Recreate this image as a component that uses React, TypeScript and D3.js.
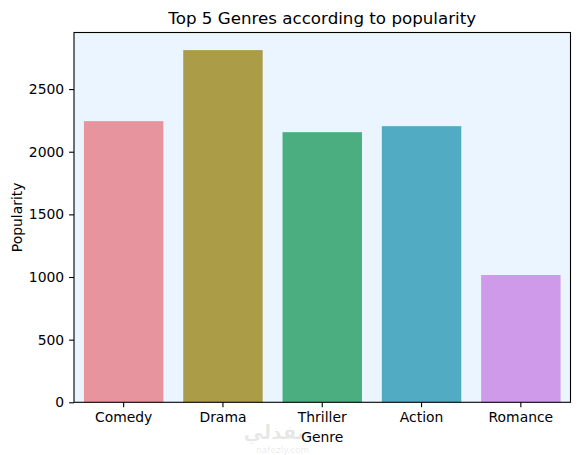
import * as d3 from 'd3'
import React from 'react'

const genres = ['Comedy', 'Drama', 'Thriller', 'Action', 'Romance']
const popularity = [2244, 2811, 2156, 2204, 1016]
const barColors = ['#e8949f', '#ab9c47', '#4aae81', '#50abc3', '#cf9ae9']
const yTicks = [0, 500, 1000, 1500, 2000, 2500]

const width = 580
const height = 455
const margin = { top: 32.5, right: 9.5, bottom: 52.7, left: 74 }
const font = 'DejaVu Sans, sans-serif'

export default function App() {
    const svgRef = React.useRef<SVGSVGElement | null>(null)

    React.useEffect(() => {
        const svg = d3.select(svgRef.current)
        svg.selectAll('*').remove()

        const innerW = width - margin.left - margin.right
        const innerH = height - margin.top - margin.bottom

        const x = d3.scaleBand().domain(genres).range([0, innerW]).paddingInner(0.2).paddingOuter(0.1)
        const yMax = (d3.max(popularity) || 0) * 1.05
        const y = d3.scaleLinear().domain([0, yMax]).range([innerH, 0])

        const g = svg.append('g').attr('transform', `translate(${margin.left},${margin.top})`)

        // axes background
        g.append('rect').attr('width', innerW).attr('height', innerH).attr('fill', '#ebf5ff')

        // bars
        g.selectAll('rect.bar')
            .data(genres)
            .join('rect')
            .attr('class', 'bar')
            .attr('x', (d) => x(d) || 0)
            .attr('y', (d, i) => y(popularity[i]))
            .attr('width', x.bandwidth())
            .attr('height', (d, i) => innerH - y(popularity[i]))
            .attr('fill', (d, i) => barColors[i])

        // frame
        g.append('rect')
            .attr('width', innerW)
            .attr('height', innerH)
            .attr('fill', 'none')
            .attr('stroke', '#000')
            .attr('stroke-width', 1.1)

        // y axis
        const yAxis = g
            .append('g')
            .call(
                d3
                    .axisLeft(y)
                    .tickValues(yTicks)
                    .tickFormat(d3.format('d'))
                    .tickSize(4.9)
                    .tickPadding(4.9)
                    .tickSizeOuter(0)
            )
        yAxis.select('.domain').remove()
        yAxis.selectAll('line').attr('stroke', '#000').attr('stroke-width', 1.1)
        yAxis.selectAll('text').attr('font-family', font).attr('font-size', 13.9).attr('fill', '#000')

        // x axis
        const xAxis = g
            .append('g')
            .attr('transform', `translate(0,${innerH})`)
            .call(d3.axisBottom(x).tickSize(4.9).tickPadding(4.9).tickSizeOuter(0))
        xAxis.select('.domain').remove()
        xAxis.selectAll('line').attr('stroke', '#000').attr('stroke-width', 1.1)
        xAxis.selectAll('text').attr('font-family', font).attr('font-size', 13.9).attr('fill', '#000')

        // labels
        svg.append('text')
            .attr('x', margin.left + innerW / 2)
            .attr('y', margin.top - 9)
            .attr('text-anchor', 'middle')
            .attr('font-family', font)
            .attr('font-size', 16.7)
            .text('Top 5 Genres according to popularity')

        svg.append('text')
            .attr('x', margin.left + innerW / 2)
            .attr('y', 442)
            .attr('text-anchor', 'middle')
            .attr('font-family', font)
            .attr('font-size', 13.9)
            .text('Genre')

        svg.append('text')
            .attr('transform', `translate(22,${margin.top + innerH / 2}) rotate(-90)`)
            .attr('text-anchor', 'middle')
            .attr('font-family', font)
            .attr('font-size', 13.9)
            .text('Popularity')

        // watermark
        svg.append('text')
            .attr('x', 274)
            .attr('y', 439)
            .attr('text-anchor', 'middle')
            .attr('font-family', font)
            .attr('font-weight', 'bold')
            .attr('font-size', 20)
            .attr('fill', '#000')
            .attr('fill-opacity', 0.1)
            .text('نفذلي')
        svg.append('text')
            .attr('x', 256)
            .attr('y', 453)
            .attr('font-family', font)
            .attr('font-size', 9)
            .attr('fill', '#000')
            .attr('fill-opacity', 0.1)
            .text('nafezly.com')
    }, [])

    return (
        <svg
            ref={svgRef}
            width={width}
            height={height}
            style={{ position: 'fixed', left: 0, top: 0, background: '#fff' }}
        />
    )
}
